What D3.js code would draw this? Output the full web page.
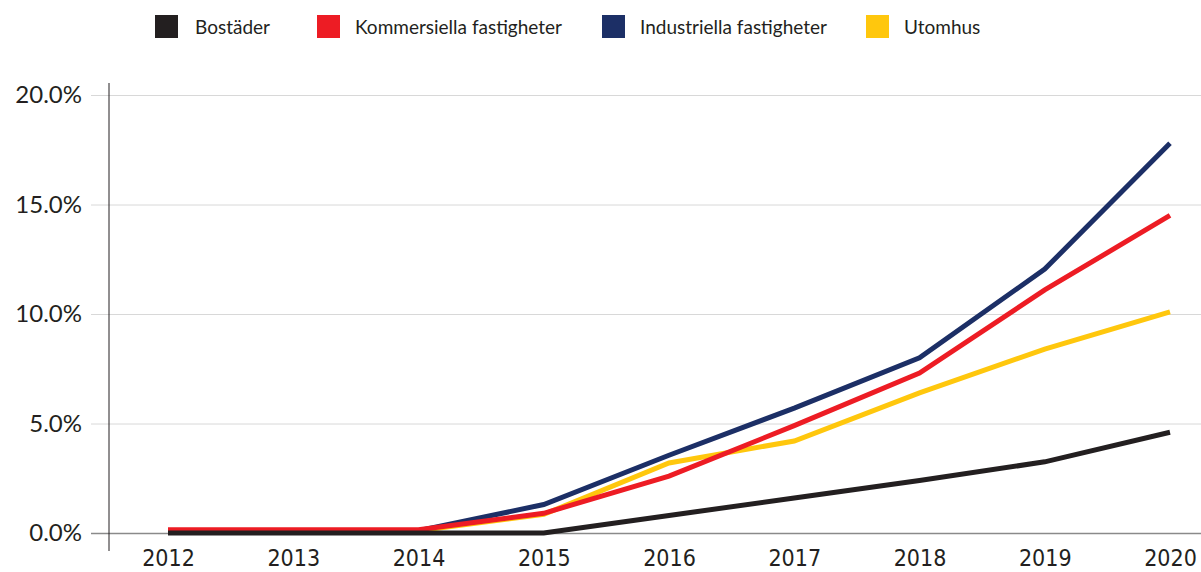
<!DOCTYPE html>
<html lang="sv">
<head>
   <meta charset="UTF-8">
   <title>Line Chart</title>
   <style>
      body {
         margin: 0;
         background: #fff;
      }

      text {
         fill: #231f20;
         user-select: none;
      }

      .legend text {
         font-family: Lato, sans-serif;
         font-size: 19px;
      }

      .y-axis text {
         font-family: Lato, sans-serif;
         font-size: 24px;
      }

      .x-axis text {
         font-family: "Liberation Sans Narrow", "DejaVu Sans Condensed", sans-serif;
         font-size: 23px;
      }
   </style>
   <script src="https://cdn.jsdelivr.net/npm/d3@7"></script>
</head>
<body>
   <div class="d3"></div>
   <script>
      // data
      const years = [2012, 2013, 2014, 2015, 2016, 2017, 2018, 2019, 2020]
      const bostader = [0, 0, 0, 0, 0.8, 1.6, 2.4, 3.25, 4.6]
      const kommersiella = [0.15, 0.15, 0.15, 0.9, 2.6, 4.9, 7.3, 11.1, 14.5]
      const industriella = [0.1, 0.1, 0.1, 1.3, 3.55, 5.7, 8.0, 12.05, 17.8]
      const utomhus = [0.1, 0.1, 0.1, 0.85, 3.2, 4.2, 6.4, 8.4, 10.1]
      const yTicks = [0, 5, 10, 15, 20]

      const seriesNames = ['Bostäder', 'Kommersiella fastigheter', 'Industriella fastigheter', 'Utomhus']
      const seriesValues = [bostader, kommersiella, industriella, utomhus]
      const colors = ['#231f20', '#ed1c24', '#1c2f66', '#ffc70d']

      // setup
      const WIDTH = 1201
      const HEIGHT = 572

      const svg = d3.select('.d3')
         .append('svg')
         .attr('width', WIDTH)
         .attr('height', HEIGHT)

      // scaling
      const xScale = d3.scaleLinear()
         .domain([2012, 2020])
         .range([168, 1170])

      const yScale = d3.scaleLinear()
         .domain([0, 20])
         .range([533, 95])

      // grid + y labels
      const yAxis = d3.axisLeft(yScale)
         .tickValues(yTicks)
         .tickSize(WIDTH - 91)
         .tickPadding(9)
         .tickFormat(d => d3.format('.1f')(d) + '%')

      const yG = svg.append('g')
         .attr('class', 'y-axis')
         .attr('transform', `translate(${WIDTH}, 0)`)
         .call(yAxis)

      yG.select('.domain').remove()
      yG.selectAll('line')
         .attr('stroke', d => d === 0 ? '#8a8a8a' : '#d8d8d8')
         .attr('stroke-width', d => d === 0 ? 1.6 : 1)
      yG.selectAll('text')
         .attr('fill', '#231f20')

      // vertical spine
      svg.append('line')
         .attr('x1', 109)
         .attr('x2', 109)
         .attr('y1', 83)
         .attr('y2', 551)
         .attr('stroke', '#231f20')
         .attr('stroke-width', 1)

      // x axis labels
      const xAxis = d3.axisBottom(xScale)
         .tickValues(years)
         .tickSize(0)
         .tickPadding(17)
         .tickFormat(d3.format('d'))

      const xG = svg.append('g')
         .attr('class', 'x-axis')
         .attr('transform', `translate(0, ${yScale(0)})`)
         .call(xAxis)

      xG.select('.domain').remove()
      xG.selectAll('text')
         .attr('fill', '#231f20')

      // lines
      const line = d3.line()
         .x((d, i) => xScale(years[i]))
         .y(d => yScale(d))

      const drawOrder = [2, 3, 1, 0]

      svg.append('g')
         .selectAll('path')
         .data(drawOrder)
         .enter()
         .append('path')
         .attr('d', i => line(seriesValues[i]))
         .attr('fill', 'none')
         .attr('stroke', i => colors[i])
         .attr('stroke-width', 5)
         .attr('stroke-linejoin', 'miter')

      // legend
      const legendX = [155, 317, 602, 866]

      const legend = svg.append('g')
         .attr('class', 'legend')
         .selectAll('g')
         .data(seriesNames)
         .enter()
         .append('g')
         .attr('transform', (d, i) => `translate(${legendX[i]}, 15)`)

      legend.append('rect')
         .attr('width', 23)
         .attr('height', 23)
         .attr('fill', (d, i) => colors[i])

      legend.append('text')
         .attr('x', (d, i) => i === 0 ? 40 : 38)
         .attr('y', 12)
         .attr('dy', '0.35em')
         .text(d => d)
   </script>
</body>
</html>
